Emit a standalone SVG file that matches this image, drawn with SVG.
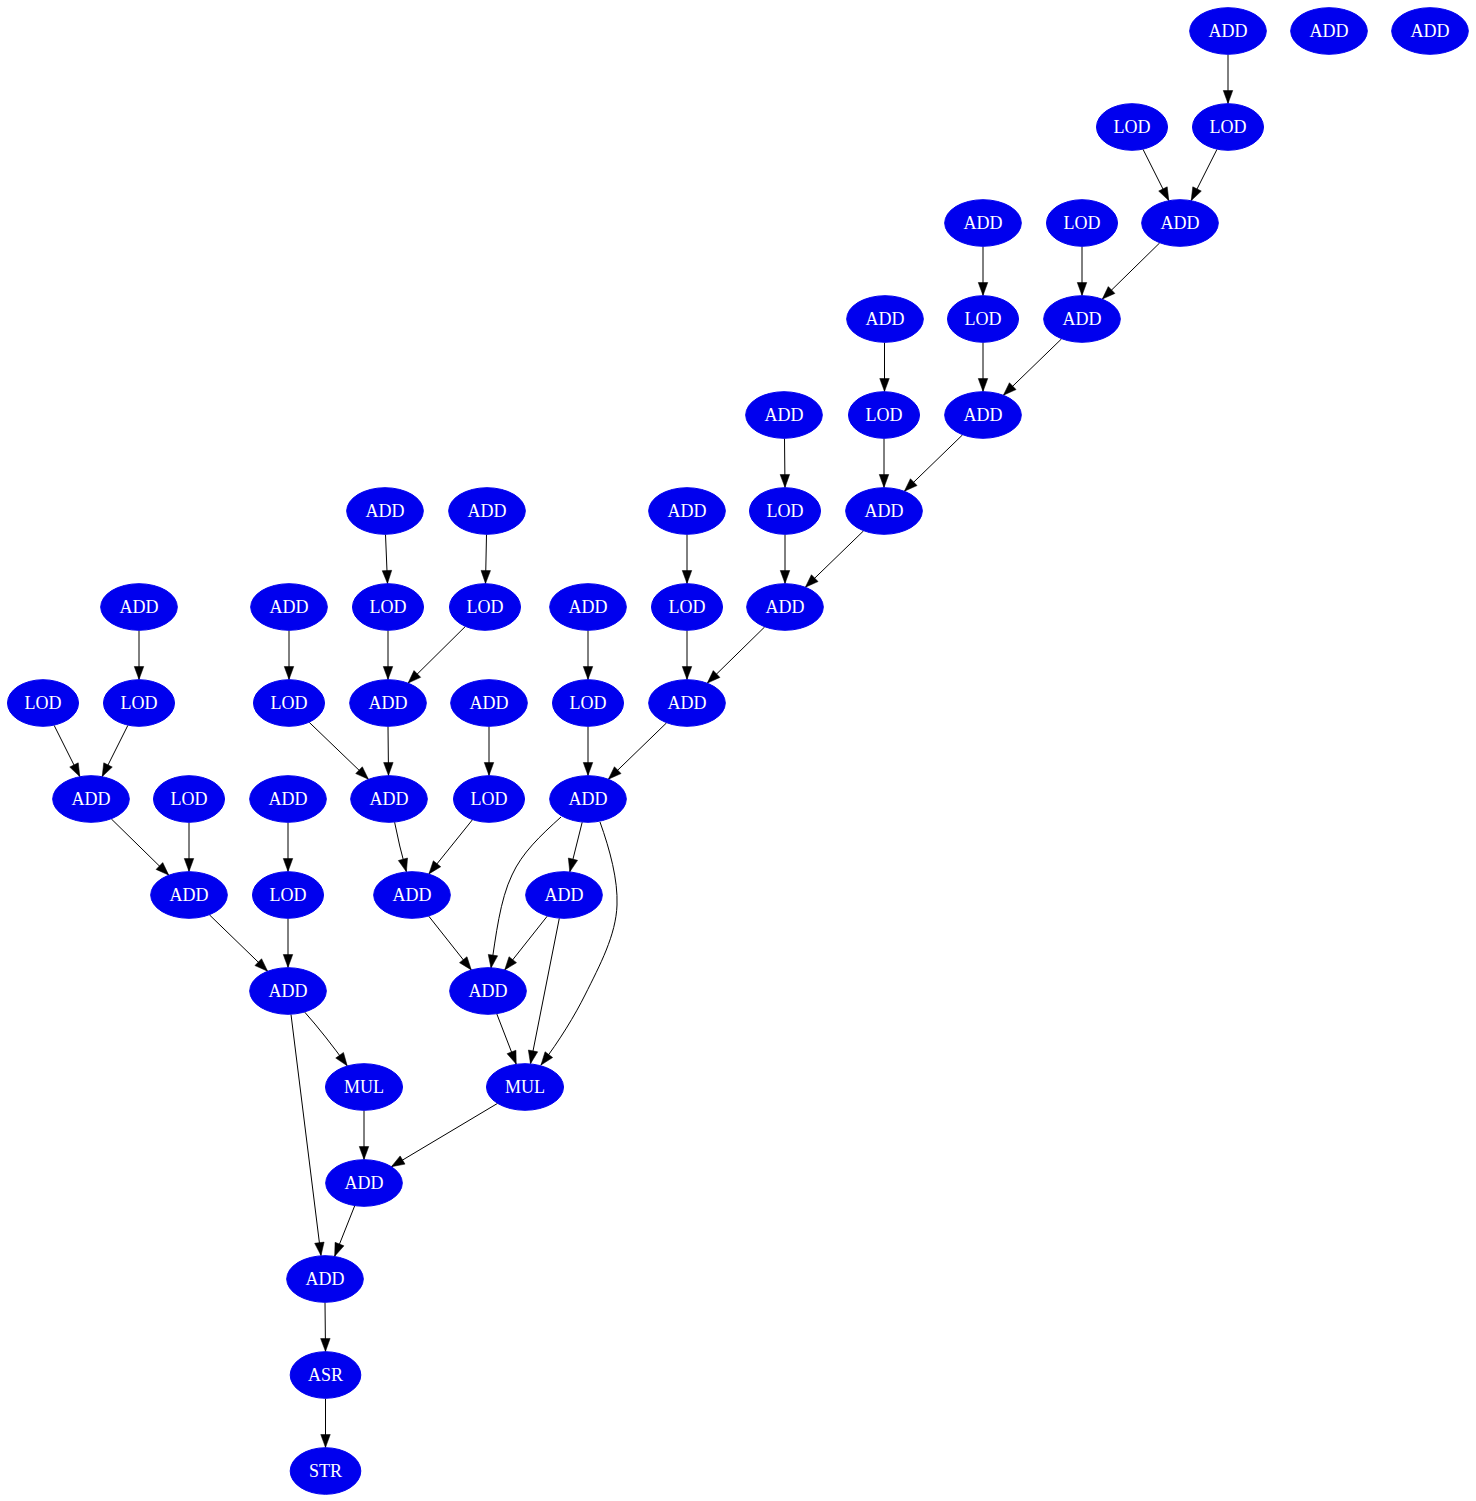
<svg xmlns="http://www.w3.org/2000/svg" width="1476" height="1501" viewBox="0 0 1476 1501">
<style>
.n ellipse{fill:#0000ee;stroke:#0000ee;stroke-width:1}
.n text{fill:#ffffff;font-family:"Liberation Serif","Times New Roman",serif;font-size:18px;text-anchor:middle}
#edges path{fill:none;stroke:#000;stroke-width:1;marker-end:url(#ah)}
</style>
<defs>
<marker id="ah" markerUnits="userSpaceOnUse" markerWidth="14" markerHeight="10" refX="13" refY="4.75" orient="auto" overflow="visible">
<path d="M0,0 L13,4.75 L0,9.5 z" fill="#000" stroke="#000" stroke-width="0.5"/>
</marker>
</defs>
<rect width="1476" height="1501" fill="#fff"/>
<g id="edges">
<path d="M1228,54.5 L1228,103.5"/>
<path d="M1143,149.3 L1168.8,200.6"/>
<path d="M1217,149.3 L1191.2,200.6"/>
<path d="M983,246.5 L983,295.5"/>
<path d="M1082,246.5 L1082,295.5"/>
<path d="M1159.7,242.9 L1102.3,299.1"/>
<path d="M884.5,342.5 L884.5,391.5"/>
<path d="M983,342.5 L983,391.5"/>
<path d="M1061.6,338.8 L1003.4,395.2"/>
<path d="M784.5,438.5 L785,487.5"/>
<path d="M884,438.5 L884,487.5"/>
<path d="M962.6,434.8 L904.4,491.2"/>
<path d="M687,534.5 L687,583.5"/>
<path d="M785,534.5 L785,583.5"/>
<path d="M863.6,530.8 L805.4,587.2"/>
<path d="M385.5,534.5 L387.5,583.5"/>
<path d="M486.5,534.5 L485.5,583.5"/>
<path d="M139,630.5 L139,679.5"/>
<path d="M289,630.5 L289,679.5"/>
<path d="M388,630.5 L388,679.5"/>
<path d="M465.3,626.5 L408.1,683.1"/>
<path d="M588,630.5 L588,679.5"/>
<path d="M687,630.5 L687,679.5"/>
<path d="M764.7,626.9 L707.3,683.1"/>
<path d="M54.1,725.3 L79.8,776.6"/>
<path d="M127.9,725.3 L102.2,776.6"/>
<path d="M309.2,722.3 L368.4,779.2"/>
<path d="M388,726.5 L388.5,775.5"/>
<path d="M489,726.5 L489,775.5"/>
<path d="M588,726.5 L588,775.5"/>
<path d="M666.6,722.8 L608.4,779.2"/>
<path d="M111.3,818.9 L168.7,875.1"/>
<path d="M189,822.5 L189,871.5"/>
<path d="M288,822.5 L288,871.5"/>
<path d="M394.6,822.2 Q399,845 406.4,871.8"/>
<path d="M472.4,819.8 L428.9,873.9"/>
<path d="M582.2,822.2 L569.8,871.8"/>
<path d="M561,817 C540,836 522,853 512,875 C500,900 496,935 491,968"/>
<path d="M600,822 C610,850 618,880 617,905 C616,935 600,965 585,995 C575,1015 560,1040 541,1065"/>
<path d="M209.4,914.8 L267.6,971.2"/>
<path d="M288,918.5 L288,967.5"/>
<path d="M428.7,916.1 L471.3,969.9"/>
<path d="M547.3,916.1 L504.7,969.9"/>
<path d="M559.3,918.3 L530.5,1063.7"/>
<path d="M304.7,1012.1 Q325,1035 347.2,1065.8"/>
<path d="M291,1014.4 L321,1255.6"/>
<path d="M496.8,1013.9 L516.2,1064.1"/>
<path d="M364,1110.5 L364,1159.5"/>
<path d="M497.5,1103.4 L391.4,1166.7"/>
<path d="M354.7,1205.8 L334.7,1256.2"/>
<path d="M325,1302.5 L325.5,1351.5"/>
<path d="M325.5,1398.5 L325.5,1447.5"/>
</g>
<g id="n0" class="n"><ellipse cx="1228" cy="31" rx="38.3" ry="23.3"/><text x="1228" y="37.3">ADD</text></g>
<g id="n1" class="n"><ellipse cx="1329" cy="31" rx="38.3" ry="23.3"/><text x="1329" y="37.3">ADD</text></g>
<g id="n2" class="n"><ellipse cx="1430" cy="31" rx="38.3" ry="23.3"/><text x="1430" y="37.3">ADD</text></g>
<g id="n3" class="n"><ellipse cx="1132" cy="127" rx="35.5" ry="23.3"/><text x="1132" y="133.3">LOD</text></g>
<g id="n4" class="n"><ellipse cx="1228" cy="127" rx="35.5" ry="23.3"/><text x="1228" y="133.3">LOD</text></g>
<g id="n5" class="n"><ellipse cx="983" cy="223" rx="38.3" ry="23.3"/><text x="983" y="229.3">ADD</text></g>
<g id="n6" class="n"><ellipse cx="1082" cy="223" rx="35.5" ry="23.3"/><text x="1082" y="229.3">LOD</text></g>
<g id="n7" class="n"><ellipse cx="1180" cy="223" rx="38.3" ry="23.3"/><text x="1180" y="229.3">ADD</text></g>
<g id="n8" class="n"><ellipse cx="885" cy="319" rx="38.3" ry="23.3"/><text x="885" y="325.3">ADD</text></g>
<g id="n9" class="n"><ellipse cx="983" cy="319" rx="35.5" ry="23.3"/><text x="983" y="325.3">LOD</text></g>
<g id="n10" class="n"><ellipse cx="1082" cy="319" rx="38.3" ry="23.3"/><text x="1082" y="325.3">ADD</text></g>
<g id="n11" class="n"><ellipse cx="784" cy="415" rx="38.3" ry="23.3"/><text x="784" y="421.3">ADD</text></g>
<g id="n12" class="n"><ellipse cx="884" cy="415" rx="35.5" ry="23.3"/><text x="884" y="421.3">LOD</text></g>
<g id="n13" class="n"><ellipse cx="983" cy="415" rx="38.3" ry="23.3"/><text x="983" y="421.3">ADD</text></g>
<g id="n14" class="n"><ellipse cx="385" cy="511" rx="38.3" ry="23.3"/><text x="385" y="517.3">ADD</text></g>
<g id="n15" class="n"><ellipse cx="487" cy="511" rx="38.3" ry="23.3"/><text x="487" y="517.3">ADD</text></g>
<g id="n16" class="n"><ellipse cx="687" cy="511" rx="38.3" ry="23.3"/><text x="687" y="517.3">ADD</text></g>
<g id="n17" class="n"><ellipse cx="785" cy="511" rx="35.5" ry="23.3"/><text x="785" y="517.3">LOD</text></g>
<g id="n18" class="n"><ellipse cx="884" cy="511" rx="38.3" ry="23.3"/><text x="884" y="517.3">ADD</text></g>
<g id="n19" class="n"><ellipse cx="139" cy="607" rx="38.3" ry="23.3"/><text x="139" y="613.3">ADD</text></g>
<g id="n20" class="n"><ellipse cx="289" cy="607" rx="38.3" ry="23.3"/><text x="289" y="613.3">ADD</text></g>
<g id="n21" class="n"><ellipse cx="388" cy="607" rx="35.5" ry="23.3"/><text x="388" y="613.3">LOD</text></g>
<g id="n22" class="n"><ellipse cx="485" cy="607" rx="35.5" ry="23.3"/><text x="485" y="613.3">LOD</text></g>
<g id="n23" class="n"><ellipse cx="588" cy="607" rx="38.3" ry="23.3"/><text x="588" y="613.3">ADD</text></g>
<g id="n24" class="n"><ellipse cx="687" cy="607" rx="35.5" ry="23.3"/><text x="687" y="613.3">LOD</text></g>
<g id="n25" class="n"><ellipse cx="785" cy="607" rx="38.3" ry="23.3"/><text x="785" y="613.3">ADD</text></g>
<g id="n26" class="n"><ellipse cx="43" cy="703" rx="35.5" ry="23.3"/><text x="43" y="709.3">LOD</text></g>
<g id="n27" class="n"><ellipse cx="139" cy="703" rx="35.5" ry="23.3"/><text x="139" y="709.3">LOD</text></g>
<g id="n28" class="n"><ellipse cx="289" cy="703" rx="35.5" ry="23.3"/><text x="289" y="709.3">LOD</text></g>
<g id="n29" class="n"><ellipse cx="388" cy="703" rx="38.3" ry="23.3"/><text x="388" y="709.3">ADD</text></g>
<g id="n30" class="n"><ellipse cx="489" cy="703" rx="38.3" ry="23.3"/><text x="489" y="709.3">ADD</text></g>
<g id="n31" class="n"><ellipse cx="588" cy="703" rx="35.5" ry="23.3"/><text x="588" y="709.3">LOD</text></g>
<g id="n32" class="n"><ellipse cx="687" cy="703" rx="38.3" ry="23.3"/><text x="687" y="709.3">ADD</text></g>
<g id="n33" class="n"><ellipse cx="91" cy="799" rx="38.3" ry="23.3"/><text x="91" y="805.3">ADD</text></g>
<g id="n34" class="n"><ellipse cx="189" cy="799" rx="35.5" ry="23.3"/><text x="189" y="805.3">LOD</text></g>
<g id="n35" class="n"><ellipse cx="288" cy="799" rx="38.3" ry="23.3"/><text x="288" y="805.3">ADD</text></g>
<g id="n36" class="n"><ellipse cx="389" cy="799" rx="38.3" ry="23.3"/><text x="389" y="805.3">ADD</text></g>
<g id="n37" class="n"><ellipse cx="489" cy="799" rx="35.5" ry="23.3"/><text x="489" y="805.3">LOD</text></g>
<g id="n38" class="n"><ellipse cx="588" cy="799" rx="38.3" ry="23.3"/><text x="588" y="805.3">ADD</text></g>
<g id="n39" class="n"><ellipse cx="189" cy="895" rx="38.3" ry="23.3"/><text x="189" y="901.3">ADD</text></g>
<g id="n40" class="n"><ellipse cx="288" cy="895" rx="35.5" ry="23.3"/><text x="288" y="901.3">LOD</text></g>
<g id="n41" class="n"><ellipse cx="412" cy="895" rx="38.3" ry="23.3"/><text x="412" y="901.3">ADD</text></g>
<g id="n42" class="n"><ellipse cx="564" cy="895" rx="38.3" ry="23.3"/><text x="564" y="901.3">ADD</text></g>
<g id="n43" class="n"><ellipse cx="288" cy="991" rx="38.3" ry="23.3"/><text x="288" y="997.3">ADD</text></g>
<g id="n44" class="n"><ellipse cx="488" cy="991" rx="38.3" ry="23.3"/><text x="488" y="997.3">ADD</text></g>
<g id="n45" class="n"><ellipse cx="364" cy="1087" rx="38.5" ry="23.3"/><text x="364" y="1093.3">MUL</text></g>
<g id="n46" class="n"><ellipse cx="525" cy="1087" rx="38.5" ry="23.3"/><text x="525" y="1093.3">MUL</text></g>
<g id="n47" class="n"><ellipse cx="364" cy="1183" rx="38.3" ry="23.3"/><text x="364" y="1189.3">ADD</text></g>
<g id="n48" class="n"><ellipse cx="325" cy="1279" rx="38.3" ry="23.3"/><text x="325" y="1285.3">ADD</text></g>
<g id="n49" class="n"><ellipse cx="325.5" cy="1375" rx="35.3" ry="23.3"/><text x="325.5" y="1381.3">ASR</text></g>
<g id="n50" class="n"><ellipse cx="325.5" cy="1471" rx="35.3" ry="23.3"/><text x="325.5" y="1477.3">STR</text></g>
</svg>
